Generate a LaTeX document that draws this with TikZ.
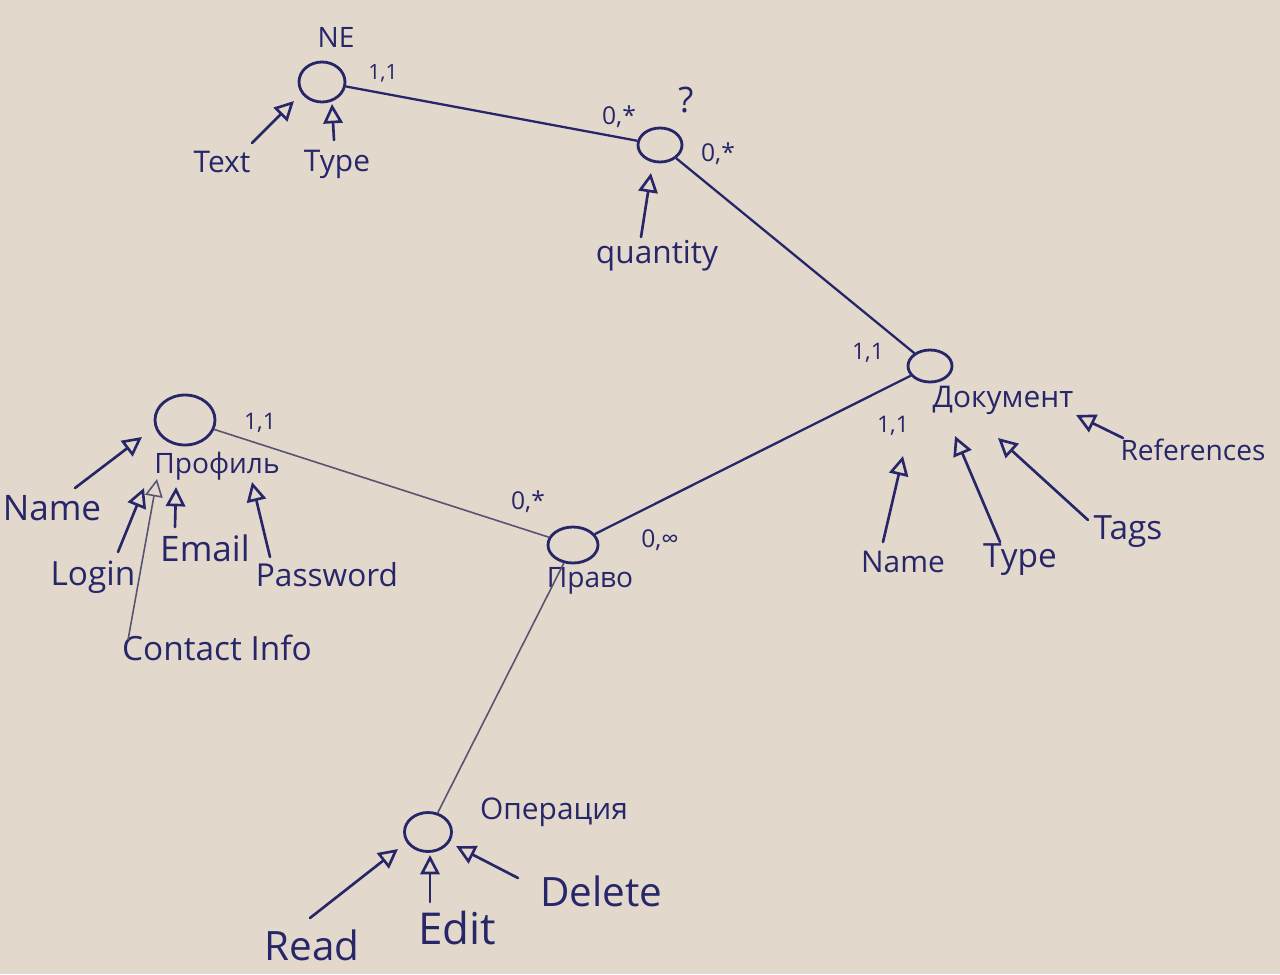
\documentclass[tikz,border=0pt]{standalone}
\usepackage{fontspec}
\setmainfont{Open Sans}
\usetikzlibrary{arrows.meta,shapes.geometric}
\definecolor{paper}{RGB}{226,216,204}
\definecolor{ink}{RGB}{38,38,105}
\definecolor{pencil}{RGB}{88,84,112}
\newcommand{\fsz}[1]{\fontsize{#1}{#1}\selectfont}
\tikzset{
  ent/.style={draw=ink, line width=1.6pt, ellipse, inner sep=0pt},
  lbl/.style={text=ink, inner sep=0pt},
  rel/.style={draw=ink, line width=1.3pt},
  relp/.style={draw=pencil, line width=0.9pt},
  attr/.style={draw=ink, line width=1.5pt, line cap=round, -{Triangle[open,length=11pt,width=11pt]}},
  attrline/.style={draw=pencil, line width=0.9pt, -{Triangle[open,length=10pt,width=10pt]}},
}
\begin{document}
\begin{tikzpicture}[x=0.02cm,y=-0.02cm]
\fill[paper] (0,0) rectangle (1280,974);
\useasboundingbox (0,0) rectangle (1280,974);

% entities
\node[ent, minimum width=0.92cm, minimum height=0.8cm] (ne) at (322,82) {};
\node[ent, minimum width=0.88cm, minimum height=0.68cm] (q) at (660,145) {};
\node[ent, minimum width=0.88cm, minimum height=0.64cm] (doc) at (930,366) {};
\node[ent, minimum width=1.2cm, minimum height=1.0cm] (prof) at (185,420) {};
\node[ent, minimum width=1.0cm, minimum height=0.72cm] (pravo) at (573,545) {};
\node[ent, minimum width=0.94cm, minimum height=0.78cm] (oper) at (428,832) {};

% entity labels
\node[lbl, font=\fsz{16}] (neL) at (336,37) {NE};
\node[lbl, font=\fsz{20}] (qm) at (686,100) {?};
\node[lbl, font=\fsz{17}] (docL) at (1003,400) {Документ};
\node[lbl, font=\fsz{16}] (profL) at (217,466) {Профиль};
\node[lbl, font=\fsz{16}] (pravoL) at (590,581) {Право};
\node[lbl, font=\fsz{17}] (operL) at (554,812) {Операция};

% cardinalities
\node[lbl, font=\fsz{12}] (c1) at (383,73) {1,1};
\node[lbl, font=\fsz{14}] (c2) at (619,117) {0,*};
\node[lbl, font=\fsz{14}] (c3) at (718,154) {0,*};
\node[lbl, font=\fsz{13}] (c4) at (868,353) {1,1};
\node[lbl, font=\fsz{13}] (c5) at (893,426) {1,1};
\node[lbl, font=\fsz{13}] (c6) at (260,423) {1,1};
\node[lbl, font=\fsz{14}] (c7) at (528,502) {0,*};
\node[lbl, font=\fsz{14}] (c8) at (660,540) {0,∞};

% relationship lines
\draw[rel] (ne) -- (q);
\draw[rel] (q) -- (doc);
\draw[rel] (doc) -- (pravo);
\draw[relp] (prof) -- (pravo);
\draw[relp] (pravo) -- (oper);

% NE attributes
\node[lbl, font=\fsz{17}] (aText) at (222,162) {Text};
\node[lbl, font=\fsz{17}] (aType) at (337,164) {Type};
\coordinate (sText) at (252,143); \coordinate (tText) at (294,101);
\coordinate (sType) at (334,140); \coordinate (tType) at (332,104);
\draw[attr] (sText) -- (tText);
\draw[attr] (sType) -- (tType);

% quantity
\node[lbl, font=\fsz{18}] (aQty) at (657,256) {quantity};
\coordinate (sQty) at (641,237); \coordinate (tQty) at (651,173);
\draw[attr] (sQty) -- (tQty);

% Profile attributes
\node[lbl, font=\fsz{20}] (pName) at (52,508) {Name};
\node[lbl, font=\fsz{19}] (pLogin) at (93,577) {Login};
\node[lbl, font=\fsz{20}] (pEmail) at (205,548) {Email};
\node[lbl, font=\fsz{18}] (pPass) at (327,575) {Password};
\node[lbl, font=\fsz{19}] (pCont) at (217,648) {Contact Info};
\coordinate (sPName) at (75,488); \coordinate (tPName) at (142,437);
\coordinate (sPLogin) at (118,552); \coordinate (tPLogin) at (144,488);
\coordinate (sPCont) at (128,640); \coordinate (tPCont) at (157,479);
\coordinate (sPEmail) at (175,527); \coordinate (tPEmail) at (176,487);
\coordinate (sPPass) at (270,557); \coordinate (tPPass) at (252,482);
\draw[attr] (sPName) -- (tPName);
\draw[attr] (sPLogin) -- (tPLogin);
\draw[attrline] (sPCont) -- (tPCont);
\draw[attr] (sPEmail) -- (tPEmail);
\draw[attr] (sPPass) -- (tPPass);

% Document attributes
\node[lbl, font=\fsz{17}] (dName) at (903,562) {Name};
\node[lbl, font=\fsz{19}] (dType) at (1020,560) {Type};
\node[lbl, font=\fsz{19}] (dTags) at (1128,532) {Tags};
\node[lbl, font=\fsz{16}] (dRefs) at (1193,450) {References};
\coordinate (sDName) at (883,542); \coordinate (tDName) at (903,456);
\coordinate (sDType) at (1000,542); \coordinate (tDType) at (955,436);
\coordinate (sDTags) at (1088,520); \coordinate (tDTags) at (998,438);
\coordinate (sDRefs) at (1123,438); \coordinate (tDRefs) at (1076,415);
\draw[attr] (sDName) -- (tDName);
\draw[attr] (sDType) -- (tDType);
\draw[attr] (sDTags) -- (tDTags);
\draw[attr] (sDRefs) -- (tDRefs);

% Operation attributes
\node[lbl, font=\fsz{23}] (oRead) at (312,945) {Read};
\node[lbl, font=\fsz{25}] (oEdit) at (457,928) {Edit};
\node[lbl, font=\fsz{23}] (oDel) at (601,891) {Delete};
\coordinate (sORead) at (310,918); \coordinate (tORead) at (398,849);
\coordinate (sOEdit) at (430,902); \coordinate (tOEdit) at (430,855);
\coordinate (sODel) at (518,878); \coordinate (tODel) at (456,846);
\draw[attr] (sORead) -- (tORead);
\draw[attr] (sOEdit) -- (tOEdit);
\draw[attr] (sODel) -- (tODel);
\end{tikzpicture}
\end{document}
